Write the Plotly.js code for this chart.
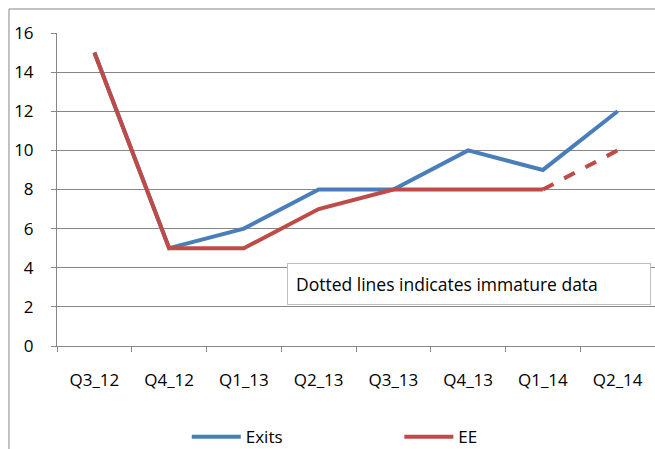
<!DOCTYPE html>
<html>
<head>
<meta charset="utf-8">
<script src="https://cdn.plot.ly/plotly-3.0.1.min.js"></script>
<style>html,body{margin:0;padding:0;background:#fff;}#chart{width:655px;height:449px;}</style>
</head>
<body>
<div id="chart"></div>
<script>
var categories = ["Q3_12","Q4_12","Q1_13","Q2_13","Q3_13","Q4_13","Q1_14","Q2_14"];
var exits = [15,5,6,8,8,10,9,12];
var ee = [15,5,5,7,8,8,8,10];
var immatureFrom = 6; // index from which EE data is immature (dashed)
var yTicks = [0,2,4,6,8,10,12,14,16];
var noteText = "Dotted lines indicates immature data";

var eeSolid = ee.map(function(v,i){ return i <= immatureFrom ? v : null; });
var eeDashed = ee.map(function(v,i){ return i >= immatureFrom ? v : null; });
// category boundaries for tick marks
var boundaries = categories.map(function(c,i){ return i - 0.5; }).concat([categories.length - 0.5]);

var blue = "#4A7EBB", red = "#BE4B48";
var font = "Open Sans, sans-serif";

var traces = [
  {x: categories, y: exits, type: "scatter", mode: "lines", name: "Exits",
   line: {color: blue, width: 4}, legend: "legend"},
  {x: categories, y: eeSolid, type: "scatter", mode: "lines", name: "EE",
   line: {color: red, width: 4}, legend: "legend2"},
  {x: categories, y: eeDashed, type: "scatter", mode: "lines", name: "EE immature",
   showlegend: false, line: {color: red, width: 4, dash: "dash"}},
  {x: boundaries, y: boundaries.map(function(){ return null; }), xaxis: "x2", type: "scatter",
   mode: "lines", showlegend: false, hoverinfo: "skip"}
];

var legendCommon = {orientation: "h", xanchor: "left", y: -0.291, yanchor: "middle",
  itemwidth: 49, bgcolor: "rgba(0,0,0,0)", font: {family: font, size: 17, color: "#000"}};

var layout = {
  width: 655, height: 449,
  margin: {l: 57, r: 0, t: 33, b: 103, autoexpand: false},
  paper_bgcolor: "#fff", plot_bgcolor: "#fff",
  font: {family: font, color: "#000", size: 17},
  showlegend: true,
  legend: Object.assign({x: 0.217}, legendCommon),
  legend2: Object.assign({x: 0.5725}, legendCommon),
  xaxis: {type: "category", range: [-0.5, 7.5],
    ticks: "", showgrid: false, gridcolor: "rgba(0,0,0,0)",
    showline: true, linecolor: "#868686", linewidth: 1,
    ticklabelstandoff: 19, tickfont: {family: font, size: 17}, zeroline: false, fixedrange: true},
  xaxis2: {overlaying: "x", anchor: "y", side: "bottom", range: [-0.5, 7.5],
    tickvals: boundaries, showticklabels: false,
    ticks: "outside", ticklen: 5, tickcolor: "#868686", tickwidth: 1,
    showgrid: false, gridcolor: "rgba(0,0,0,0)",
    showline: false, zeroline: false, fixedrange: true},
  yaxis: {range: [0, 16], tickvals: yTicks, ticktext: yTicks.map(String),
    ticks: "outside", ticklen: 5, tickcolor: "#868686",
    showgrid: true, gridcolor: "#868686", gridwidth: 1,
    showline: true, linecolor: "#868686", linewidth: 1, zeroline: false,
    ticklabelstandoff: 14, tickfont: {family: font, size: 17}, fixedrange: true},
  shapes: [
    {type: "line", xref: "paper", yref: "paper", x0: -0.0803, x1: 1.1, y0: 1.0767, y1: 1.0767,
     line: {color: "#868686", width: 1}},
    {type: "line", xref: "paper", yref: "paper", x0: -0.0803, x1: -0.0803, y0: 1.0767, y1: -0.35,
     line: {color: "#868686", width: 1}}
  ],
  annotations: [
    {xref: "paper", yref: "paper", x: 0.385, y: 0.197, xanchor: "left", yanchor: "middle",
     text: noteText, showarrow: false, align: "left",
     font: {family: font, size: 17.5, color: "#000"},
     bgcolor: "#fff", bordercolor: "#BFBFBF", borderwidth: 1, borderpad: 8,
     width: 346}
  ]
};

Plotly.newPlot("chart", traces, layout, {displayModeBar: false, staticPlot: true});
</script>
</body>
</html>
